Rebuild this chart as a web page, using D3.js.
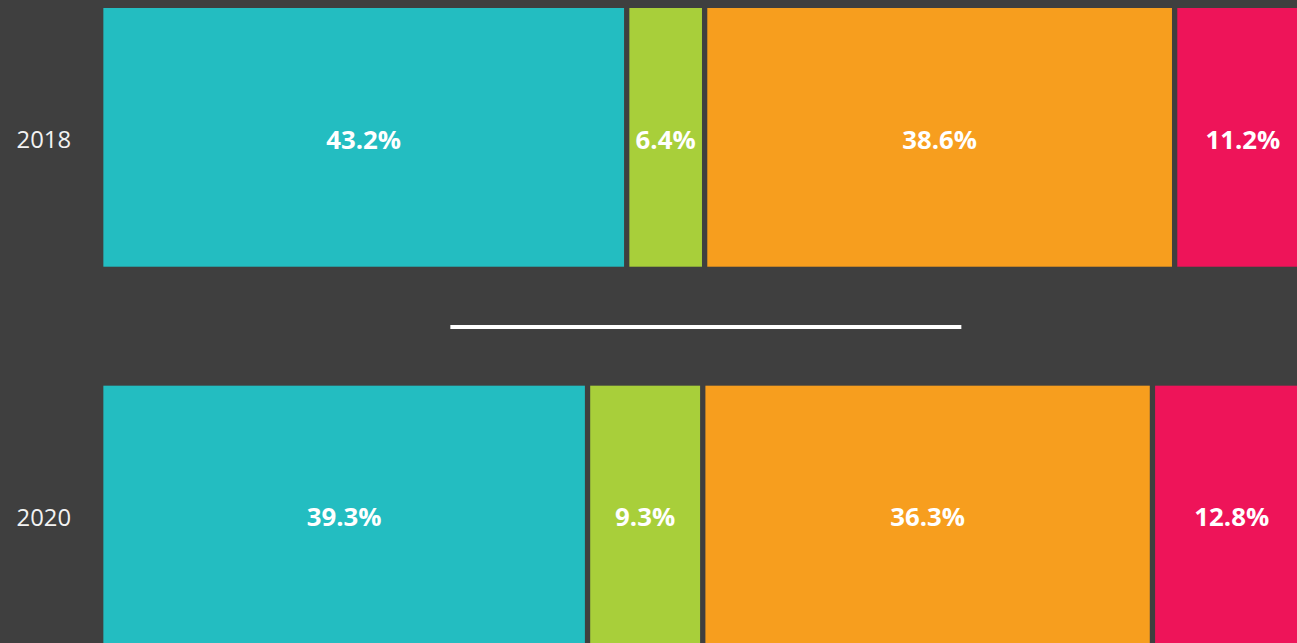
<!DOCTYPE html>
<html>
<head>
<meta charset="utf-8">
<script src="https://cdn.jsdelivr.net/npm/d3@7"></script>
<style>
  html, body { margin: 0; padding: 0; background: #3f3f3f; overflow: hidden; }
  svg { display: block; }
</style>
</head>
<body>
<svg id="chart"></svg>
<script>
// data
const years = ["2018", "2020"];
const categories = ["a", "b", "c", "d"];
const values2018 = [43.2, 6.4, 38.6, 11.2];
const values2020 = [39.3, 9.3, 36.3, 12.8];
const colours = ["#23bdc1", "#a8cf3a", "#f79e1e", "#ee1459"];

var width = 1297;
var height = 643;
var gap = 5.3;

var svg = d3.select('#chart')
  .attr('width', width)
  .attr('height', height);

svg.append('rect')
  .attr('width', width)
  .attr('height', height)
  .attr('fill', '#3f3f3f');

// build rows for d3.stack
var rows = years.map((yr, i) => {
  var vals = i == 0 ? values2018 : values2020;
  var row = { year: yr };
  categories.forEach((c, j) => row[c] = vals[j]);
  return row;
});

// each row stretched to full width (100% stacked)
var series = d3.stack()
  .keys(categories)
  .offset(d3.stackOffsetExpand)(rows);

var x = d3.scaleLinear().domain([0, 1]).range([100.7, 1311]);
var y = d3.scaleBand().domain(years).range([8, 644.4]).paddingInner(0.315).paddingOuter(0);
var color = d3.scaleOrdinal().domain(categories).range(colours);

var groups = svg.selectAll('g.series')
  .data(series)
  .join('g')
  .attr('class', 'series')
  .attr('fill', d => color(d.key));

groups.selectAll('rect')
  .data(d => d.map(p => Object.assign(p, { key: d.key })))
  .join('rect')
  .attr('x', d => x(d[0]) + gap / 2)
  .attr('y', d => y(d.data.year))
  .attr('width', d => x(d[1]) - x(d[0]) - gap)
  .attr('height', y.bandwidth());

// percent labels in the middle of each piece
groups.selectAll('text')
  .data(d => d)
  .join('text')
  .attr('x', d => (x(d[0]) + x(d[1])) / 2)
  .attr('y', d => y(d.data.year) + y.bandwidth() / 2 + 2)
  .attr('dy', '0.36em')
  .attr('text-anchor', 'middle')
  .attr('font-family', '"Open Sans", sans-serif')
  .attr('font-weight', 'bold')
  .attr('font-size', 25.8)
  .attr('fill', '#ffffff')
  .text(d => d.data[d.key].toFixed(1) + '%');

// year labels on the left
svg.append('g')
  .selectAll('text')
  .data(years)
  .join('text')
  .attr('x', 71)
  .attr('y', d => y(d) + y.bandwidth() / 2 + 2)
  .attr('dy', '0.36em')
  .attr('text-anchor', 'end')
  .attr('font-family', '"Open Sans", sans-serif')
  .attr('font-size', 23.8)
  .attr('fill', '#f2f2f2')
  .text(d => d);

// white divider between the two rows
var mid = (x(0) + x(1)) / 2;
var lineY = (y(years[0]) + y.bandwidth() + y(years[1])) / 2 + 0.8;
svg.append('line')
  .attr('x1', mid - 255.5)
  .attr('x2', mid + 255.5)
  .attr('y1', lineY)
  .attr('y2', lineY)
  .attr('stroke', '#ffffff')
  .attr('stroke-width', 4);
</script>
</body>
</html>
